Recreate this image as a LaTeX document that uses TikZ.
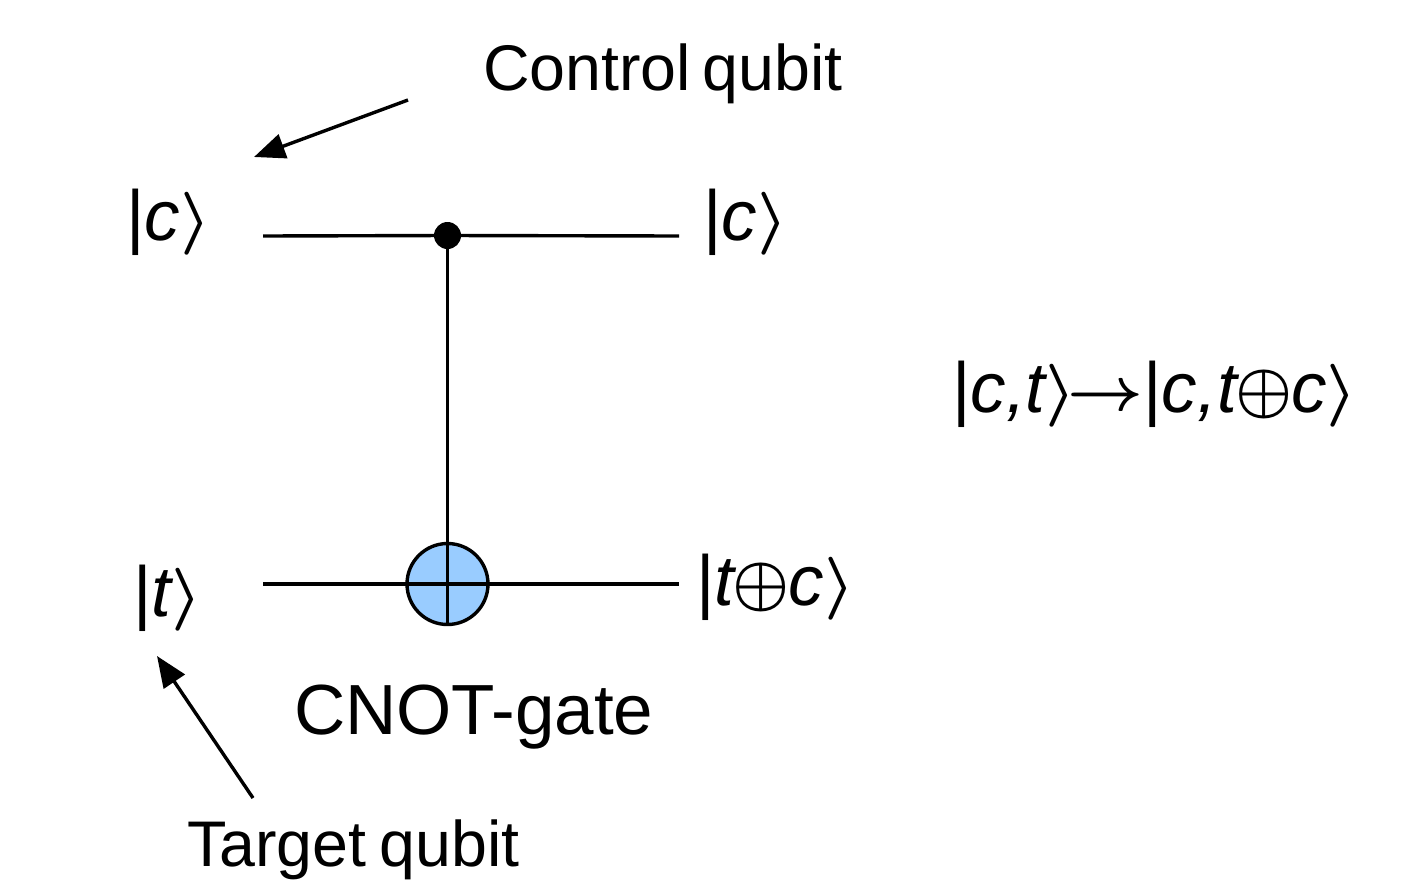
\documentclass[tikz,border=0pt]{standalone}
\usepackage{fontspec}
\setmainfont{Liberation Sans}
\usetikzlibrary{arrows.meta}
\newcommand{\mathpiece}[4]{\raisebox{#1}{\scalebox{#2}[#3]{\fontsize{10}{12}\selectfont\mathversion{bold}$#4$}}}
\newcommand{\kbar}{\textup{|}}
\newcommand{\krang}{\mathpiece{1pt}{6.9}{6.3}{\rangle}}
\newcommand{\kplus}{\hspace{-1.5pt}\mathpiece{2pt}{6.4}{6.4}{\oplus}\hspace{-1.5pt}}
\newcommand{\karrow}{\hspace{-9pt}\mathpiece{2pt}{6.6}{6.2}{\rightarrow}}
\tikzset{
  wire/.style={line width=3.4pt},
  pointer/.style={line width=3.4pt,-{Triangle[length=31pt,width=25pt]}},
  label/.style={inner sep=0pt,anchor=base west},
  labelsmall/.style={label,font=\fontsize{64.5}{72}\selectfont},
  labelbig/.style={label,font=\fontsize{71}{78}\selectfont},
  ketlabel/.style={label,font=\fontsize{71}{78}\selectfont\itshape},
}
\definecolor{gatefill}{RGB}{153,204,255}
\begin{document}
\begin{tikzpicture}[x=1pt,y=-1pt]
\useasboundingbox (0,0) rectangle (1404,886);
\coordinate (w1l) at (263,236);
\coordinate (w1r) at (679,236);
\coordinate (w2l) at (263,584);
\coordinate (w2r) at (679,584);
\coordinate (cs) at (408,100);
\coordinate (ce) at (254,157);
\coordinate (ts) at (253,798);
\coordinate (te) at (157,656);
\node[circle,draw,wire,fill=gatefill,minimum size=81pt,inner sep=0pt] (gate) at (447.5,584) {};
\node[circle,fill=black,minimum size=27pt,inner sep=0pt] (dot) at (447.5,235.5) {};
\draw[wire] (w1l) -- (dot) -- (w1r);
\draw[wire] (w2l) -- (gate.center) -- (w2r);
\draw[wire] (dot.center) -- (gate.south);
\draw[pointer] (cs) -- (ce);
\draw[pointer] (ts) -- (te);
\node[labelsmall] (ctrl) at (483,90) {Control\hspace{-6pt} qubit};
\node[labelsmall] (targ) at (187,866) {Target\hspace{-4.5pt} qubit};
\node[labelbig] (cnot) at (294,734) {CNOT-gate};
\node[ketlabel] (k1) at (126,240) {\kbar c\krang};
\node[ketlabel] (k2) at (703,240) {\kbar c\krang};
\node[ketlabel] (k3) at (133,616) {\kbar t\krang};
\node[ketlabel] (k4) at (696,605) {\kbar t\kplus c\krang};
\node[ketlabel] (k5) at (952,412) {\kbar c,t\krang\karrow\kbar c,t\kplus c\krang};
\end{tikzpicture}
\end{document}
